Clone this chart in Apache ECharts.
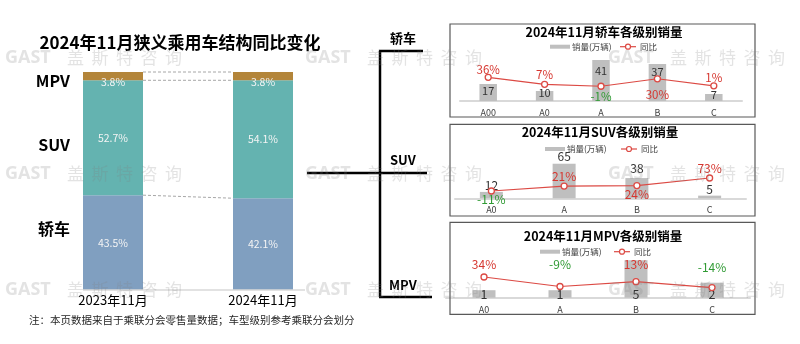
<!DOCTYPE html>
<html><head><meta charset="utf-8">
<script src="https://cdn.jsdelivr.net/npm/echarts@6/dist/echarts.min.js"></script>
<style>html,body{margin:0;padding:0;background:#fff}#c{width:800px;height:344px}</style>
</head><body><div id="c"></div>
<script>
// ---- data ----
const leftCats = ['2023年11月', '2024年11月'];
const sedanShare = [43.5, 42.1];
const suvShare = [52.7, 54.1];
const mpvShare = [3.8, 3.8];

const sedanCats = ['A00', 'A0', 'A', 'B', 'C'];
const sedanSales = [17, 10, 41, 37, 7];
const sedanYoy = [36, 7, -1, 30, 1];

const suvCats = ['A0', 'A', 'B', 'C'];
const suvSales = [12, 65, 38, 5];
const suvYoy = [-11, 21, 24, 73];

const mpvCats = ['A0', 'A', 'B', 'C'];
const mpvSales = [1, 1, 5, 2];
const mpvYoy = [34, -9, 13, -14];

// ---- label placement styles (not data) ----
const sedanYoyPos = ['top', 'top', 'bottom', 'bottom', 'top'];
const sedanYoyDist = [-2, 0, 1, 6, -1];
const sedanBarDist = [-12, -7, -16, -13, -6];
const suvYoyPos = ['bottom', 'top', 'bottom', 'top'];
const suvYoyDist = [-1, 0, -1, 0];
const suvBarDist = [0, 1.5, 4, 0.5];
const mpvYoyPos = ['top', 'top', 'top', 'top'];
const mpvYoyDist = [3, 12.5, 7.5, 10.5];

const FONT = "'Noto Sans CJK SC','Noto Sans',sans-serif";
const C_SEDAN = '#809fc0', C_SUV = '#64b3b0', C_MPV = '#b3853a';
const C_GRAYBAR = '#bfbfbf', C_LINE = '#dc4a44';
const C_POS = '#d6362f', C_NEG = '#2f9a33';

const chart = echarts.init(document.getElementById('c'), null, {renderer: 'canvas'});

function yoyItems(vals, pos, dist) {
  return vals.map((v, i) => ({value: v, label: {position: pos[i], distance: dist[i]}}));
}
function barItems(vals, dist) {
  return vals.map((v, i) => ({value: v, label: {distance: dist[i]}}));
}
const yoyLabel = (fs) => ({
  show: true,
  formatter: p => (p.value < 0 ? '{n|' : '{p|') + p.value + '%}',
  rich: {p: {color: C_POS, fontSize: fs, fontFamily: FONT}, n: {color: C_NEG, fontSize: fs, fontFamily: FONT}}
});
const lineSeries = (xi, yi, items, fs) => ({
  type: 'line', name: '同比', xAxisIndex: xi, yAxisIndex: yi, data: items,
  symbol: 'circle', symbolSize: 6, showSymbol: true,
  itemStyle: {color: '#fff', borderColor: C_LINE, borderWidth: 1.3},
  lineStyle: {color: C_LINE, width: 1.2},
  label: yoyLabel(fs), z: 5
});
const panelX = (gi, cats) => ({
  type: 'category', gridIndex: gi, data: cats,
  axisTick: {show: false},
  axisLine: {show: true, lineStyle: {color: '#d9d9d9', width: 2}},
  axisLabel: {fontSize: 9, color: '#404040', margin: 7, fontFamily: FONT}
});
const hiddenY = (gi, min, max) => ({
  type: 'value', gridIndex: gi, min: min, max: max, show: false, splitLine: {show: false}
});

const option = {
  animation: false,
  textStyle: {fontFamily: FONT},
  grid: [
    {left: 38, top: 72, width: 300, height: 218},
    {left: 460, top: 51, width: 282, height: 50},
    {left: 455, top: 148.3, width: 291, height: 50},
    {left: 446, top: 252.7, width: 304, height: 45}
  ],
  xAxis: [
    {type: 'category', gridIndex: 0, data: leftCats, axisTick: {show: false}, axisLine: {show: false},
     axisLabel: {fontSize: 13, color: '#000', margin: 4, fontFamily: FONT}},
    panelX(1, sedanCats), panelX(2, suvCats), panelX(3, mpvCats)
  ],
  yAxis: [
    hiddenY(0, 0, 100),
    hiddenY(1, 0, 50), hiddenY(1, -62, 145),
    hiddenY(2, 0, 94), hiddenY(2, -58, 264.6),
    hiddenY(3, 0, 6), hiddenY(3, -60, 144.5)
  ],
  series: [
    {type: 'bar', name: '轿车', stack: 'share', xAxisIndex: 0, yAxisIndex: 0, data: sedanShare, barWidth: 60,
     itemStyle: {color: C_SEDAN},
     label: {show: true, position: 'inside', formatter: '{c}%', color: '#f4f4f4', fontSize: 10.5}},
    {type: 'bar', name: 'SUV', stack: 'share', xAxisIndex: 0, yAxisIndex: 0, data: suvShare, barWidth: 60,
     itemStyle: {color: C_SUV},
     label: {show: true, position: 'inside', formatter: '{c}%', color: '#f4f4f4', fontSize: 10.5}},
    {type: 'bar', name: 'MPV', stack: 'share', xAxisIndex: 0, yAxisIndex: 0, data: mpvShare, barWidth: 60,
     itemStyle: {color: C_MPV},
     label: {show: true, position: 'inside', offset: [0, 6], formatter: '{c}%', color: '#f4f4f4', fontSize: 10.5}},

    {type: 'bar', name: '销量(万辆)', xAxisIndex: 1, yAxisIndex: 1, data: barItems(sedanSales, sedanBarDist), barWidth: 17.5,
     itemStyle: {color: C_GRAYBAR}, label: {show: true, position: 'top', color: '#333', fontSize: 11}},
    lineSeries(1, 2, yoyItems(sedanYoy, sedanYoyPos, sedanYoyDist), 11.5),

    {type: 'bar', name: '销量(万辆)', xAxisIndex: 2, yAxisIndex: 3, data: barItems(suvSales, suvBarDist), barWidth: 23,
     itemStyle: {color: C_GRAYBAR}, label: {show: true, position: 'top', color: '#333', fontSize: 12}},
    lineSeries(2, 4, yoyItems(suvYoy, suvYoyPos, suvYoyDist), 12),

    {type: 'bar', name: '销量(万辆)', xAxisIndex: 3, yAxisIndex: 5, data: mpvSales, barWidth: 23,
     itemStyle: {color: C_GRAYBAR}, label: {show: true, position: 'insideBottom', distance: -2.5, color: '#333', fontSize: 12.5}},
    lineSeries(3, 6, yoyItems(mpvYoy, mpvYoyPos, mpvYoyDist), 12)
  ]
};
chart.setOption(option);

// ---- decorations ----
const g = [];
function txt(x, y, s, fs, opts) {
  g.push(Object.assign({type: 'text', x: x, y: y, z: 10,
    style: Object.assign({text: s, fontSize: fs, fontFamily: FONT, fill: '#000',
      textAlign: 'left', textVerticalAlign: 'middle'}, opts || {})}));
}
function ln(x1, y1, x2, y2, style) {
  g.push({type: 'line', z: 9, shape: {x1: x1, y1: y1, x2: x2, y2: y2}, style: style});
}

// left title, side labels, footnote
txt(180, 43, '2024年11月狭义乘用车结构同比变化', 17, {fontWeight: 'bold', textAlign: 'center'});
txt(70, 81, 'MPV', 16, {fontWeight: 'bold', textAlign: 'right'});
txt(70, 145, 'SUV', 16, {fontWeight: 'bold', textAlign: 'right'});
txt(70, 229, '轿车', 16, {fontWeight: 'bold', textAlign: 'right'});
txt(29, 320, '注：本页数据来自于乘联分会零售量数据；车型级别参考乘联分会划分', 10.5, {fill: '#262626'});

// connectors between stacked bars (computed from data through the axis scale)
const half = 30;
const lvA = [sedanShare, sedanShare.map((v, i) => v + suvShare[i]),
             sedanShare.map((v, i) => v + suvShare[i] + mpvShare[i])];
lvA.forEach(lv => {
  const p0 = chart.convertToPixel({xAxisIndex: 0, yAxisIndex: 0}, [0, lv[0]]);
  const p1 = chart.convertToPixel({xAxisIndex: 0, yAxisIndex: 0}, [1, lv[1]]);
  ln(p0[0] + half, p0[1], p1[0] - half, p1[1], {stroke: '#a6a6a6', lineWidth: 1, lineDash: [3, 2]});
});
const b0 = chart.convertToPixel({xAxisIndex: 0, yAxisIndex: 0}, [0, 0]);
const b1 = chart.convertToPixel({xAxisIndex: 0, yAxisIndex: 0}, [1, 0]);
ln(b0[0] - half, b0[1], b1[0] + half + 12, b1[1], {stroke: '#d9d9d9', lineWidth: 1.5});

// bracket
const BK = {stroke: '#000', lineWidth: 2.5};
ln(380, 51, 380, 297, BK);
ln(379, 51, 423, 51, BK);
ln(379, 297, 432, 297, BK);
ln(307, 173, 427, 173, BK);
txt(390, 38, '轿车', 13, {fontWeight: 'bold'});
txt(390, 160, 'SUV', 13, {fontWeight: 'bold'});
txt(389, 285, 'MPV', 13, {fontWeight: 'bold'});

// panel frames, titles, legends
const panels = [
  {top: 24, bottom: 117, title: '2024年11月轿车各级别销量', ty: 32.5, tx: 604, ly: 46.7, rx: 550, lx: 620},
  {top: 124.3, bottom: 216, title: '2024年11月SUV各级别销量', ty: 132.5, tx: 600, ly: 149, rx: 545, lx: 621},
  {top: 222.3, bottom: 314.3, title: '2024年11月MPV各级别销量', ty: 236, tx: 603, ly: 251.7, rx: 540, lx: 614}
];
panels.forEach(p => {
  g.push({type: 'rect', z: 1, shape: {x: 450, y: p.top, width: 305, height: p.bottom - p.top},
    style: {fill: 'none', stroke: '#595959', lineWidth: 1.2}});
  txt(p.tx, p.ty, p.title, 12.5, {fontWeight: 'bold', textAlign: 'center', fill: '#000'});
  g.push({type: 'rect', z: 10, shape: {x: p.rx, y: p.ly - 2, width: 20, height: 4}, style: {fill: C_GRAYBAR}});
  txt(p.rx + 22, p.ly, '销量(万辆)', 8.5, {fill: '#404040'});
  ln(p.lx, p.ly, p.lx + 16, p.ly, {stroke: C_LINE, lineWidth: 1.2});
  g.push({type: 'circle', z: 10, shape: {cx: p.lx + 8, cy: p.ly, r: 2.5}, style: {fill: '#fff', stroke: C_LINE, lineWidth: 1.2}});
  txt(p.lx + 20, p.ly, '同比', 8.5, {fill: '#404040'});
});

// watermarks
const wmCols = [5, 305, 608], wmRows = [58, 174, 290];
const wmChars = ['盖', '斯', '特', '咨', '询'];
wmRows.forEach(y => wmCols.forEach(x => {
  txt(x, y, 'GAST', 18, {fontWeight: 'bold', fill: 'rgba(128,128,128,0.22)', fontFamily: "'Open Sans','Noto Sans',sans-serif"});
  wmChars.forEach((ch, i) => txt(x + 62 + i * 24.5, y, ch, 17, {fill: 'rgba(128,128,128,0.22)'}));
}));

chart.setOption({graphic: g});
</script>
</body></html>
